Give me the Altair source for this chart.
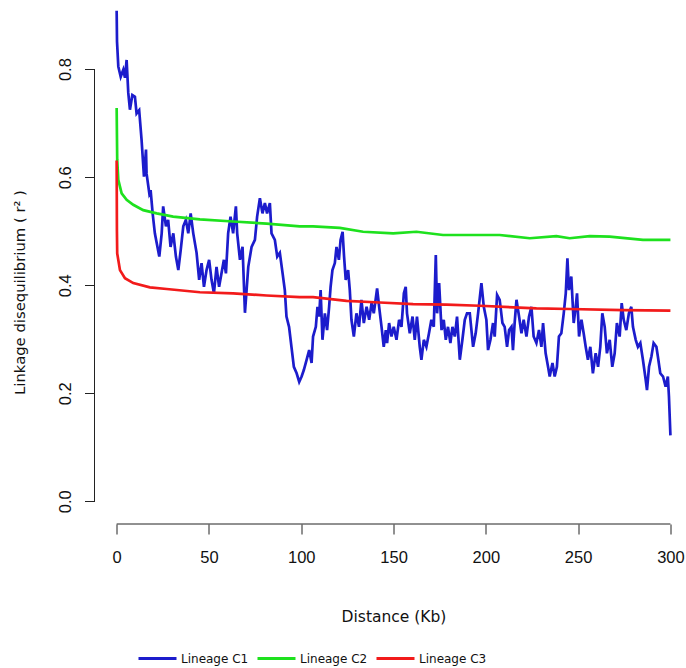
import altair as alt
import pandas as pd

# ---- data ----
c1_x = [0, 0.2, 0.9, 2.2, 3.6, 4.5, 5.4, 6.3, 7.2, 8.5, 9.9, 10.8, 12.2, 13.5, 14.8, 15.9, 16.2, 17.7, 18.4, 19.5,
        20.7, 21.7, 23.1, 24.4, 25.2, 26.7, 27.9, 29.2, 30.7, 32.1, 33.4, 34.7, 36.1, 37.5, 38.8, 40.1, 41.5, 43.3,
        44.7, 46.0, 47.3, 48.7, 50.1, 51.4, 52.7, 54.1, 55.5, 56.8, 58.1, 59.2, 60.4, 61.7, 63.1, 64.6, 65.3, 66.8,
        68.2, 69.5, 71.3, 73.1, 74.9, 76.1, 77.6, 79.0, 80.3, 81.5, 83.0, 83.9, 85.7, 87.0, 88.4, 89.9,
        91.1, 92.0, 93.4, 94.7, 96.0, 97.5, 98.9, 100.2, 101.4, 102.9, 104.3, 105.6, 106.4, 107.9, 108.8, 109.7,
        110.5, 111.5, 112.8, 114.0, 115.1, 115.9, 116.9, 118.2, 119.1, 120.4, 121.3, 122.4, 123.2, 124.1, 125.4,
        126.3, 127.2, 128.5, 129.9, 131.3, 132.6, 133.9, 135.4, 136.8, 138.1, 139.3, 141.1, 142.2, 143.5, 144.7,
        145.8, 146.5, 147.6, 148.9, 150.1, 151.6, 153.0, 154.3, 155.6, 156.6, 157.3, 158.8, 160.3, 161.5, 162.7,
        164.2, 165.1, 166.4, 167.8, 169.2, 170.5, 171.8, 172.9, 173.6, 174.7, 176.0, 177.2, 178.3, 179.5, 180.8,
        181.9, 183.2, 184.4, 185.9, 187.3, 188.6, 189.8,
        191.3, 193.1, 194.5, 195.8, 197.6, 198.9, 200.3, 201.2, 202.5, 203.9, 204.8, 206.1, 207.5, 209.0, 210.2,
        211.5, 212.6, 213.9, 214.7, 215.6, 216.6, 218.0, 219.3, 220.5, 222.0, 223.4, 224.7, 225.9, 227.4, 228.8,
        230.1, 231.0, 232.4, 233.7, 234.6, 236.1, 237.3, 238.5, 239.6, 240.9, 242.2, 243.3, 244.2, 245.0, 246.3,
        247.6, 248.7, 249.4, 250.5, 251.8, 253.0, 254.1, 255.3, 256.6, 258.0, 259.5, 260.8, 262.0, 263.1, 264.4,
        265.6, 267.1, 268.5, 269.8, 271.0, 272.5, 273.6, 274.7, 276.1, 277.5, 278.8, 279.7, 281.2, 282.4, 283.7,
        285.1, 286.6, 287.3, 288.4, 289.7, 290.9, 292.4, 293.2, 294.5, 296.0, 297.4, 298.6, 299.2, 300.0]
c1_y = [0.908, 0.851, 0.805, 0.786, 0.799, 0.784, 0.817, 0.756, 0.725, 0.752, 0.749, 0.718, 0.724, 0.669, 0.601,
        0.651, 0.607, 0.570, 0.576, 0.533, 0.496, 0.478, 0.453, 0.496, 0.546, 0.509, 0.521, 0.471, 0.496, 0.453,
        0.428, 0.465, 0.509, 0.521, 0.496, 0.533, 0.496, 0.460, 0.410, 0.441, 0.397, 0.428, 0.447, 0.410, 0.385,
        0.434, 0.397, 0.422, 0.447, 0.422, 0.496, 0.527, 0.496, 0.546, 0.496, 0.447, 0.471, 0.349, 0.434, 0.471,
        0.484, 0.527, 0.561, 0.533, 0.552, 0.533, 0.552, 0.496, 0.484, 0.453, 0.460, 0.422,
        0.391, 0.342, 0.323, 0.286, 0.249, 0.237, 0.221, 0.231, 0.243, 0.262, 0.280, 0.256, 0.305, 0.323, 0.360,
        0.342, 0.391, 0.299, 0.348, 0.317, 0.360, 0.397, 0.428, 0.441, 0.471, 0.447, 0.484, 0.499, 0.453, 0.410,
        0.428, 0.391, 0.336, 0.305, 0.348, 0.323, 0.373, 0.330, 0.360, 0.336, 0.367, 0.348, 0.394, 0.360, 0.323,
        0.286, 0.317, 0.293, 0.330, 0.305, 0.323, 0.299, 0.336, 0.323, 0.385, 0.397, 0.348, 0.311, 0.342, 0.299,
        0.342, 0.286, 0.262, 0.299, 0.286, 0.311, 0.336, 0.323, 0.456, 0.348, 0.404, 0.317, 0.336, 0.299, 0.323,
        0.293, 0.323, 0.305, 0.342, 0.262, 0.299, 0.336, 0.348,
        0.348, 0.286, 0.311, 0.348, 0.404, 0.360, 0.336, 0.280, 0.299, 0.330, 0.305, 0.382, 0.373, 0.330, 0.323,
        0.286, 0.317, 0.323, 0.280, 0.330, 0.373, 0.342, 0.311, 0.336, 0.305, 0.342, 0.360, 0.305, 0.293, 0.317,
        0.286, 0.330, 0.274, 0.249, 0.231, 0.256, 0.231, 0.249, 0.305, 0.311, 0.348, 0.385, 0.450, 0.391, 0.416,
        0.330, 0.360, 0.385, 0.305, 0.336, 0.311, 0.286, 0.262, 0.286, 0.237, 0.274, 0.249, 0.286, 0.348, 0.323,
        0.274, 0.299, 0.249, 0.274, 0.330, 0.305, 0.367, 0.336, 0.317, 0.348, 0.360, 0.323, 0.299, 0.286, 0.293,
        0.262, 0.225, 0.206, 0.249, 0.268, 0.293, 0.286, 0.268, 0.237, 0.231, 0.212, 0.231, 0.194, 0.122]

c2_x = [0, 0.3, 0.9, 2.7, 5.4, 9.0, 14.4, 21.7, 30.6, 45.1, 63.1, 81.2, 99.2, 106.4, 120.9, 133.5, 149.8, 162.4,
        176.8, 196.7, 207.5, 223.8, 238.2, 245.4, 256.3, 267.1, 285.1, 300.0]
c2_y = [0.728, 0.632, 0.595, 0.570, 0.558, 0.549, 0.539, 0.533, 0.527, 0.522, 0.518, 0.514, 0.509, 0.509, 0.506,
        0.499, 0.496, 0.499, 0.493, 0.493, 0.493, 0.487, 0.491, 0.487, 0.491, 0.490, 0.484, 0.484]

c3_x = [0, 0.15, 0.3, 1.8, 4.5, 9.0, 18.0, 27.1, 45.1, 63.1, 81.2, 99.2, 106.4, 124.5, 142.6, 160.6, 178.7, 196.7,
        227.4, 245.4, 274.3, 300.0]
c3_y = [0.631, 0.500, 0.459, 0.428, 0.413, 0.404, 0.396, 0.393, 0.387, 0.385, 0.381, 0.378, 0.378, 0.371, 0.368,
        0.365, 0.364, 0.362, 0.357, 0.356, 0.354, 0.353]

series_names = ["Lineage C1", "Lineage C2", "Lineage C3"]
series_colors = ["#1c1ccc", "#1ee11e", "#f21b1b"]
x_ticks = [0, 50, 100, 150, 200, 250, 300]
y_ticks = [0.0, 0.2, 0.4, 0.6, 0.8]

rows = []
for name, xs, ys in zip(series_names, [c1_x, c2_x, c3_x], [c1_y, c2_y, c3_y]):
    for i, (a, b) in enumerate(zip(xs, ys)):
        rows.append({"dist": a, "r2": b, "lineage": name, "idx": i})
df = pd.DataFrame(rows)

W, H = 587, 524
PAD_L, PAD_T = 94.5, 0
PAD_R, PAD_B = 686 - 94.5 - W, 668 - H
xscale = alt.Scale(domain=[-12, 306], nice=False, zero=False)
yscale = alt.Scale(domain=[-0.042, 0.928], nice=False, zero=False)
FONT_T = "DejaVu Sans"
FONT_L = "Liberation Sans"
AX_COL = "#222222"

lines = alt.Chart(df).mark_line(strokeWidth=2.7, clip=True).encode(
    x=alt.X("dist:Q", scale=xscale,
            axis=alt.Axis(values=x_ticks, domain=False, grid=False, tickSize=10, tickColor=AX_COL,
                          labelFont=FONT_L, labelFontSize=16.5, labelColor="#111111", labelPadding=15,
                          labelBaseline="top", labelFlush=False, labelAlign="center",
                          title="Distance (Kb)", titleFont=FONT_T, titleFontSize=15.5, titleFontWeight="normal",
                          titleColor="#111111", titleX=299, titleY=92, titleBaseline="middle",
                          titleAlign="center", titleAngle=0)),
    y=alt.Y("r2:Q", scale=yscale,
            axis=alt.Axis(values=y_ticks, format=".1f", domain=False, grid=False, tickSize=10,
                          tickColor=AX_COL, labelFont=FONT_L, labelFontSize=16.5, labelColor="#111111",
                          labelAngle=270, labelAlign="center", labelBaseline="alphabetic", labelPadding=14.5,
                          labelFlush=False,
                          title="Linkage disequilibrium  ( r² )", titleFont=FONT_T, titleFontSize=14.8,
                          titleFontWeight="normal", titleColor="#111111", titleAngle=270, titleX=-74.5,
                          titleY=292, titleBaseline="middle", titleAlign="center")),
    color=alt.Color("lineage:N", scale=alt.Scale(domain=series_names, range=series_colors),
                    legend=alt.Legend(orient="none", legendX=42.5, legendY=638, direction="horizontal",
                                      title=None, symbolType="stroke", symbolSize=1444, symbolStrokeWidth=3,
                                      labelFont=FONT_T, labelFontSize=12, labelColor="#111111", labelOffset=3,
                                      columnPadding=2, gridAlign="none", padding=0)),
    order="idx:Q",
)

yaxis_line = alt.Chart(pd.DataFrame({"a": [0]})).mark_rule(color=AX_COL, strokeWidth=1).encode(
    x=alt.value(0), y=alt.datum(y_ticks[0], scale=yscale), y2=alt.datum(y_ticks[-1]))
xaxis_line = alt.Chart(pd.DataFrame({"a": [0]})).mark_rule(color=AX_COL, strokeWidth=1).encode(
    y=alt.value(H), x=alt.datum(x_ticks[0], scale=xscale), x2=alt.datum(x_ticks[-1]))

chart = alt.layer(lines, yaxis_line, xaxis_line).properties(
    width=W, height=H,
    autosize=alt.AutoSizeParams(type="none"),
    padding={"left": PAD_L, "top": PAD_T, "right": PAD_R, "bottom": PAD_B},
    background="white",
).configure_view(stroke=None)

chart.save("out.html", embed_options={"renderer": "svg", "actions": False})
